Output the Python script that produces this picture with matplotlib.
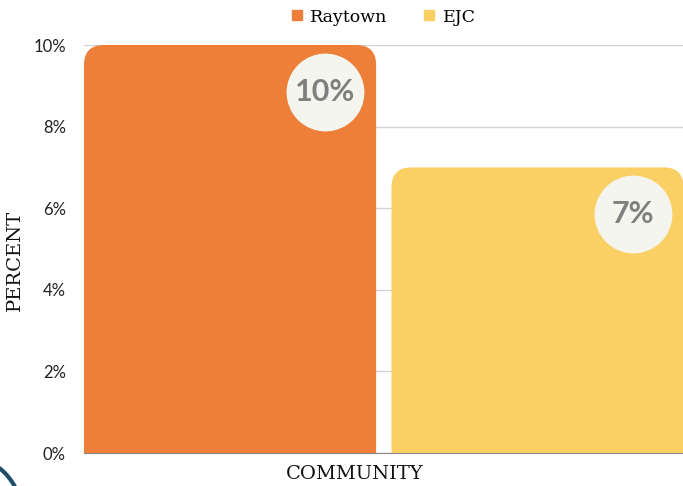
import matplotlib
matplotlib.use("Agg")
import matplotlib.pyplot as plt
from matplotlib.patches import FancyBboxPatch, Circle
from matplotlib.lines import Line2D
from matplotlib import transforms

communities = ["Raytown", "EJC"]
percents = [10, 7]
labels = ["10%", "7%"]
colors = ["#EE7F38", "#FAD064"]

fig = plt.figure(figsize=(6.83, 4.86), dpi=100)
ax = fig.add_axes([84 / 683, 33 / 486, 599 / 683, 408 / 486])

x = [0, 1]
width = 0.95
ax.set_xlim(-0.475, 1.473)
ax.set_ylim(0, 10)

# px per data unit, used to keep the corner rounding circular
px_x = 307.5
px_y = 40.8
aspect = px_x / px_y
rad = 20 / px_x

for xi, val, col in zip(x, percents, colors):
    p = FancyBboxPatch((xi - width / 2, -2), width, val + 2,
                       boxstyle="round,pad=0,rounding_size=%f" % rad,
                       mutation_aspect=aspect, fc=col, ec="none", zorder=2)
    ax.add_patch(p)

for xi, val, lab in zip(x, percents, labels):
    tr = transforms.offset_copy(ax.transData, fig=fig, x=0, y=-47, units="dots")
    ax.plot([xi + 0.31], [val], marker="o", markersize=56, color="#F5F5F0",
            mec="none", transform=tr, zorder=3)
    ax.text(xi + 0.31, val, lab, transform=tr, ha="center", va="center",
            fontsize=22, fontweight="bold", color="#7F7F7F", family="Lato", zorder=4)

ax.set_yticks([0, 2, 4, 6, 8, 10])
ax.set_yticklabels(["0%", "2%", "4%", "6%", "8%", "10%"], family="Lato", fontsize=12, color="#222222")
ax.set_xticks([])
ax.tick_params(axis="y", length=0, pad=13)
ax.grid(axis="y", color="#D3D3D3", linewidth=1)
ax.set_axisbelow(True)
for s in ["top", "right", "left"]:
    ax.spines[s].set_visible(False)
ax.spines["bottom"].set_color("#888888")
ax.spines["bottom"].set_zorder(1)

fig.text(15 / 683, 1 - 260 / 486, "PERCENT", rotation=90, ha="center", va="center",
         family="DejaVu Serif", fontsize=14, color="#111111")
fig.text(355 / 683, 1 - 474 / 486, "COMMUNITY", ha="center", va="center",
         family="DejaVu Serif", fontsize=14, color="#111111")

handles = [Line2D([], [], marker="s", linestyle="none", color=c, markersize=7) for c in colors]
fig.legend(handles, communities, loc="center", bbox_to_anchor=(383 / 683, 1 - 17 / 486),
           ncol=2, frameon=False, prop={"family": "DejaVu Serif", "size": 12.5},
           handletextpad=0.4, columnspacing=2.0, handlelength=0.8)

# decorative arc in the lower left corner
arc = Circle((-38, -29), 60, transform=None, fill=False, ec="#1F4E6B", lw=3)
fig.patches.append(arc)

fig.savefig("out.png", dpi=100)
